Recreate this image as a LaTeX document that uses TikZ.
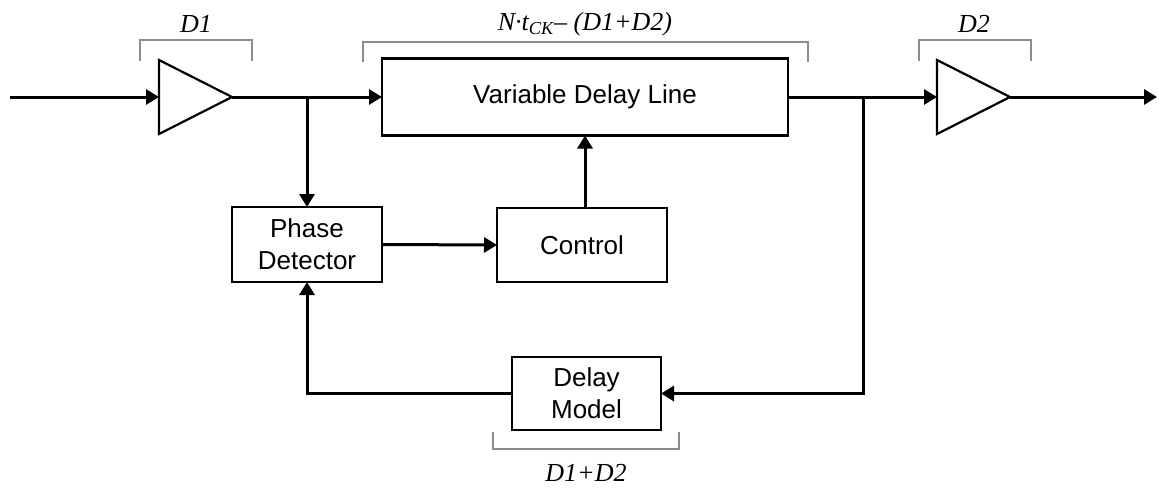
\documentclass[tikz,border=0pt]{standalone}
\usepackage{fontspec}
\setmainfont{Liberation Serif}
\setsansfont{Liberation Sans}
\usetikzlibrary{arrows.meta}
\begin{document}
\begin{tikzpicture}[x=0.5pt,y=-0.5pt,
  block/.style={draw,line width=1.1pt,font=\sffamily\fontsize{13}{16}\selectfont,
    align=center,inner sep=0pt,outer sep=0pt},
  buffer/.style={draw,line width=1.1pt,line join=miter},
  sig/.style={line width=1.5pt,-{Triangle[length=6.5pt,width=7.5pt]}},
  span/.style={draw=black!45,line width=0.7pt},
  lbl/.style={font=\itshape\fontsize{13}{15}\selectfont,inner sep=0pt}
]
\useasboundingbox (0,0) rectangle (1159,487);

% buffers
\draw[buffer] (159,60) -- (232,97) -- (159,134) -- cycle;
\draw[buffer] (937,60) -- (1010,97) -- (937,134) -- cycle;
\coordinate (in) at (10,97);
\coordinate (b1in) at (159,97);
\coordinate (b1out) at (232,97);
\coordinate (b2in) at (937,97);
\coordinate (b2out) at (1010,97);
\coordinate (out) at (1157,97);

% blocks
\node[block,minimum width=203pt,minimum height=38.5pt] (vdl) at (585,97) {Variable Delay Line};
\node[block,minimum width=75pt,minimum height=37.5pt] (pd) at (307,244.5) {Phase\\Detector};
\node[block,minimum width=85pt,minimum height=37pt] (ctl) at (582,245) {Control};
\node[block,minimum width=74.5pt,minimum height=36.5pt] (dm) at (586.5,393.5) {Delay\\Model};

% routing points
\coordinate (split) at (307,97);
\coordinate (tap) at (863,97);
\coordinate (fb) at (863,393.5);
\coordinate (ret) at (307,393.5);

% signal paths
\draw[sig] (in) -- (b1in);
\draw[sig] (b1out) -- (vdl.west);
\draw[sig] (split) -- (pd.north);
\draw[sig] (pd.east) -- (ctl.west);
\draw[sig] (ctl.north -| vdl.south) -- (vdl.south);
\draw[sig] (vdl.east) -- (b2in);
\draw[sig] (b2out) -- (out);
\draw[sig] (tap) -- (fb) -- (dm.east);
\draw[sig] (dm.west) -- (ret) -- (pd.south);

% delay spans
\draw[span] (140,61) -- (140,40) -- (252,40) -- (252,61);
\node[lbl] (d1lbl) at (196,24) {D1};
\draw[span] (363,62) -- (363,42) -- (808,42) -- (808,62);
\node[lbl] (vdllbl) at (585,24) {N·t\textsubscript{CK}– (D1+D2)};
\draw[span] (919,61) -- (919,40) -- (1031,40) -- (1031,61);
\node[lbl] (d2lbl) at (974,24) {D2};
\draw[span] (493,432) -- (493,449) -- (679,449) -- (679,432);
\node[lbl] (dmlbl) at (586,473) {D1+D2};
\end{tikzpicture}
\end{document}
